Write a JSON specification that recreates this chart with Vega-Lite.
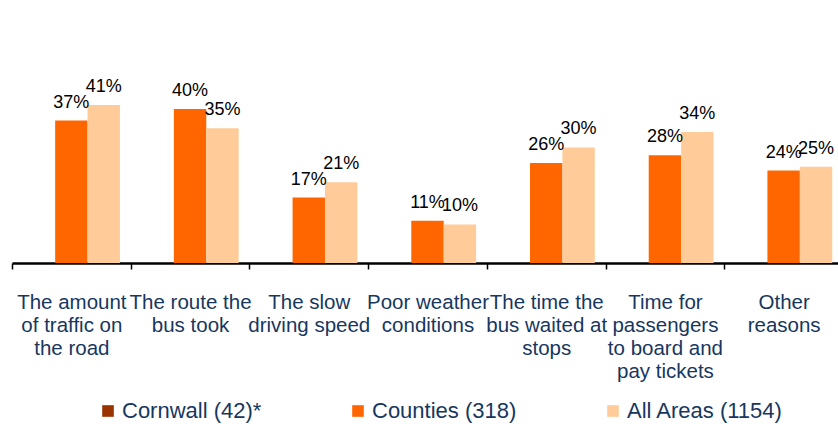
{
  "$schema": "https://vega.github.io/schema/vega-lite/v6.json",
  "autosize": {"type": "none"},
  "width": 831,
  "height": 263,
  "padding": {"left": 12, "top": 0, "right": 0, "bottom": 161},
  "background": "white",
  "config": {"view": {"stroke": null}, "font": "Liberation Sans"},
  "data": {"values": [
    {"category": "The amount of traffic on the road", "series": "Counties (318)", "value": 0.37},
    {"category": "The amount of traffic on the road", "series": "All Areas (1154)", "value": 0.41},
    {"category": "The route the bus took", "series": "Counties (318)", "value": 0.40},
    {"category": "The route the bus took", "series": "All Areas (1154)", "value": 0.35},
    {"category": "The slow driving speed", "series": "Counties (318)", "value": 0.17},
    {"category": "The slow driving speed", "series": "All Areas (1154)", "value": 0.21},
    {"category": "Poor weather conditions", "series": "Counties (318)", "value": 0.11},
    {"category": "Poor weather conditions", "series": "All Areas (1154)", "value": 0.10},
    {"category": "The time the bus waited at stops", "series": "Counties (318)", "value": 0.26},
    {"category": "The time the bus waited at stops", "series": "All Areas (1154)", "value": 0.30},
    {"category": "Time for passengers to board and pay tickets", "series": "Counties (318)", "value": 0.28},
    {"category": "Time for passengers to board and pay tickets", "series": "All Areas (1154)", "value": 0.34},
    {"category": "Other reasons", "series": "Counties (318)", "value": 0.24},
    {"category": "Other reasons", "series": "All Areas (1154)", "value": 0.25}
  ]},
  "encoding": {
    "x": {
      "field": "category", "type": "nominal", "sort": null,
      "scale": {"paddingInner": 0, "paddingOuter": 0},
      "axis": {
        "title": null, "labelAngle": 0, "domainColor": "#000000", "domainWidth": 2.5,
        "tickColor": "#000000", "tickWidth": 1.5, "tickSize": 6, "tickBand": "extent",
        "labelFontSize": 20.5, "labelColor": "#17375E", "labelLineHeight": 23,
        "labelPadding": 23, "labelOverlap": false, "labelLimit": 0, "labelBound": false, "labelFlush": false,
        "labelBaseline": "top",
        "labelExpr": "datum.value == 'The amount of traffic on the road' ? ['The amount', 'of traffic on', 'the road'] : datum.value == 'The route the bus took' ? ['The route the', 'bus took'] : datum.value == 'The slow driving speed' ? ['The slow', 'driving speed'] : datum.value == 'Poor weather conditions' ? ['Poor weather', 'conditions'] : datum.value == 'The time the bus waited at stops' ? ['The time the', 'bus waited at', 'stops'] : datum.value == 'Time for passengers to board and pay tickets' ? ['Time for', 'passengers', 'to board and', 'pay tickets'] : datum.value == 'Other reasons' ? ['Other', 'reasons'] : ''"
      }
    },
    "xOffset": {
      "field": "series", "type": "nominal",
      "scale": {"domain": ["Cornwall (42)*", "Counties (318)", "All Areas (1154)"], "paddingInner": 0, "paddingOuter": 0.332}
    },
    "y": {
      "field": "value", "type": "quantitative",
      "scale": {"domain": [0, 0.683], "nice": false},
      "axis": null
    }
  },
  "layer": [
    {
      "mark": {"type": "bar"},
      "encoding": {
        "color": {
          "field": "series", "type": "nominal",
          "scale": {"domain": ["Cornwall (42)*", "Counties (318)", "All Areas (1154)"], "range": ["#993300", "#FF6600", "#FFCC99"]},
          "legend": {
            "title": null, "orient": "none", "direction": "horizontal", "columns": 3,
            "legendX": 85, "legendY": 400, "symbolType": "square", "symbolSize": 135,
            "symbolStrokeWidth": 0, "labelFontSize": 22, "labelColor": "#17375E",
            "columnPadding": 85, "labelOffset": 3, "labelLimit": 0
          }
        }
      }
    },
    {
      "mark": {"type": "text", "baseline": "alphabetic", "dy": -13, "fontSize": 18, "color": "#000000"},
      "encoding": {
        "text": {"field": "value", "type": "quantitative", "format": ".0%"}
      }
    }
  ]
}
